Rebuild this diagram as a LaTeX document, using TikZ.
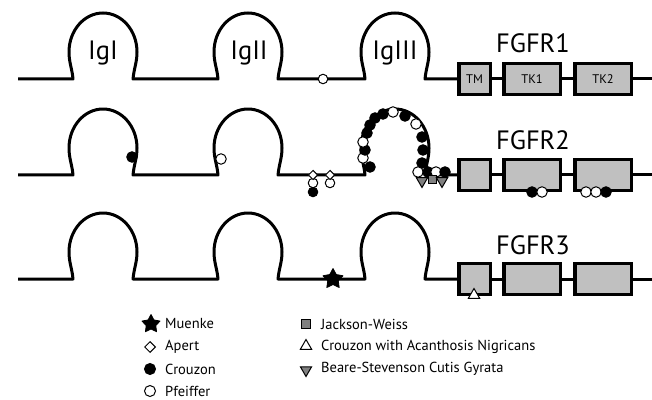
\documentclass[tikz,border=0pt]{standalone}
\usepackage{fontspec}
\setmainfont{PT Sans}
\usetikzlibrary{shapes.geometric}
\definecolor{boxgray}{RGB}{192,192,192}
\definecolor{mkgray}{RGB}{128,128,128}
\begin{document}
\begin{tikzpicture}[x=1pt,y=1pt,
  backbone/.style={line width=3pt,line join=round},
  dom/.style={draw,line width=3.5pt,fill=boxgray,minimum height=31pt,inner sep=0pt},
  tmbox/.style={dom,minimum width=31.5pt},
  tkbox/.style={dom,minimum width=56.5pt},
  big/.style={font=\fontsize{26.5}{30}\selectfont,inner sep=0pt},
  small/.style={font=\fontsize{12.5}{14}\selectfont,inner sep=0pt},
  leg/.style={font=\fontsize{14.5}{17}\selectfont,anchor=west,inner sep=0pt},
  mk/.style={draw=black,line width=1pt,inner sep=0pt},
  blk/.style={mk,circle,fill=black,minimum size=10.5pt},
  wht/.style={mk,circle,fill=white,minimum size=10.5pt},
  dia/.style={mk,diamond,fill=white,minimum size=10.5pt},
  sqm/.style={mk,rectangle,fill=mkgray,minimum size=8pt},
  tup/.style={mk,regular polygon,regular polygon sides=3,fill=white,minimum size=13pt},
  tdn/.style={tup,shape border rotate=180,fill=mkgray},
  starm/.style={star,star points=5,star point ratio=1.9,fill=black,draw=black,line width=0.8pt,line join=round,minimum size=21pt,inner sep=0pt}
]
\useasboundingbox (0,0) rectangle (652,399);

% rows
\foreach \r/\b in {1/320,2/224,3/120}{
  \node[tmbox] (tm\r) at (474.5,\b) {};
  \node[tkbox] (tka\r) at (532,\b) {};
  \node[tkbox] (tkb\r) at (603,\b) {};
  \coordinate (start\r) at (18,\b);
  \coordinate (end\r) at (652,\b);
  \draw[backbone] (start\r) -- (73,\b)
    to[out=95,in=-90] (69,\b+27) arc[start angle=180,end angle=0,x radius=34,y radius=39]
    to[out=-90,in=85] (133,\b) -- (218,\b)
    to[out=95,in=-90] (214,\b+27) arc[start angle=180,end angle=0,x radius=34,y radius=39]
    to[out=-90,in=85] (278,\b) -- (365,\b)
    to[out=95,in=-90] (361,\b+27) arc[start angle=180,end angle=0,x radius=34,y radius=39]
    to[out=-90,in=85] (425,\b) -- (tm\r.west);
  \draw[backbone] (tm\r.east) -- (tka\r.west);
  \draw[backbone] (tka\r.east) -- (tkb\r.west);
  \draw[backbone] (tkb\r.east) -- (end\r);
}

% labels
\node[big] (igI) at (103,346) {IgI};
\node[big] (igII) at (249,346) {IgII};
\node[big] (igIII) at (395,346) {IgIII};
\node[big] (f1) at (533,356) {FGFR1};
\node[big] (f2) at (533,259) {FGFR2};
\node[big] (f3) at (533,154) {FGFR3};
\node[small] (ltm) at (tm1) {TM};
\node[small] (ltka) at (tka1) {TK1};
\node[small] (ltkb) at (tkb1) {TK2};

% FGFR1 markers
\node[wht,minimum size=9.5pt] (p1) at (323,320) {};

% FGFR2 markers
\node[blk] (c2a) at (132,242) {};
\node[wht] (p2a) at (221,240) {};
\node[blk,minimum size=9.5pt] (c2b) at (313,207) {};
\node[wht,minimum size=9.5pt] (p2b) at (313,216) {};
\node[wht,minimum size=9.5pt] (p2c) at (330,216) {};
\node[dia,minimum size=9.5pt] (a2a) at (313,224) {};
\node[dia,minimum size=9.5pt] (a2b) at (330,224) {};
\foreach \x/\y/\s [count=\i] in {370/232/blk,363/241/wht,365/249/blk,363/257/wht,367/266/blk,
  370/274/blk,375/281/blk,383/285/blk,393/287/wht,405/283/blk,416/275/wht,422/262/blk,
  423/249/blk,422/236/blk,418/227/wht,428/227/blk,436/227/wht,445/227/blk}{
  \node[\s] (g\i) at (\x,\y) {};
}
\node[tdn] (b2a) at (422,218) {};
\node[sqm] (j2a) at (432,219) {};
\node[tdn] (b2b) at (442,218) {};
\node[blk] (c2k) at (532,207) {};
\node[wht] (p2k) at (542,207) {};
\node[wht] (p2l) at (586,207) {};
\node[wht] (p2m) at (596,207) {};
\node[blk] (c2l) at (606,207) {};

% FGFR3 markers
\node[starm] (m3) at (333,120) {};
\node[tup] (t3) at (474,104) {};

% legend
\node[starm,minimum size=19pt] (lm) at (151,75) {};
\node[leg] (tlm) at (165,75) {Muenke};
\node[dia,minimum size=11pt] (la) at (150,52) {};
\node[leg] (tla) at (165,52) {Apert};
\node[blk,minimum size=11pt] (lc) at (150,30) {};
\node[leg] (tlc) at (165,30) {Crouzon};
\node[wht,minimum size=11pt] (lp) at (150,8) {};
\node[leg] (tlp) at (165,8) {Pfeiffer};
\node[sqm,minimum size=9pt] (lj) at (306,75) {};
\node[leg] (tlj) at (321,75) {Jackson-Weiss};
\node[tup] (lt) at (306,53) {};
\node[leg] (tlt) at (321,52) {Crouzon with Acanthosis Nigricans};
\node[tdn] (lb) at (306,29) {};
\node[leg] (tlb) at (321,30) {Beare-Stevenson Cutis Gyrata};
\end{tikzpicture}
\end{document}
